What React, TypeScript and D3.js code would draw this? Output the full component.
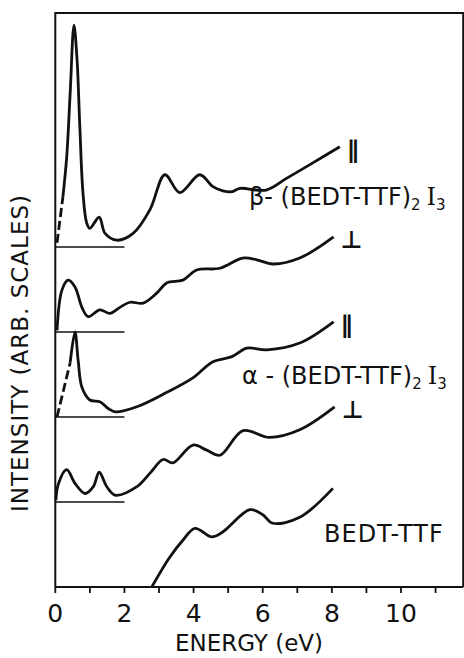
import React from "react";
import * as d3 from "d3";

// energy (eV) / intensity (arb., relative to each trace's own baseline)
const betaPar: [number, number][] = [
  [0.05, 0.05], [0.22, 0.59], [0.33, 1.06], [0.43, 1.81], [0.54, 2.61],
  [0.63, 2.2], [0.71, 1.41], [0.8, 0.64], [0.91, 0.28], [1.0, 0.22],
  [1.27, 0.35], [1.44, 0.16], [1.78, 0.08], [2.25, 0.16], [2.74, 0.44],
  [3.17, 0.85], [3.6, 0.64], [4.18, 0.85], [4.56, 0.71], [4.85, 0.66],
  [5.1, 0.65], [5.34, 0.69], [6.1, 0.67], [6.7, 0.81], [7.45, 0.99], [8.23, 1.18],
];
const betaPerp: [number, number][] = [
  [0.05, 0.02], [0.19, 0.49], [0.37, 0.61], [0.57, 0.53], [0.77, 0.29],
  [0.95, 0.18], [1.29, 0.26], [1.58, 0.22], [1.87, 0.29], [2.16, 0.35],
  [2.54, 0.34], [2.94, 0.46], [3.23, 0.58], [3.69, 0.61], [4.09, 0.73],
  [4.76, 0.75], [5.42, 0.87], [5.83, 0.85], [6.29, 0.8], [7.07, 0.87],
  [8.05, 1.12],
];
const alphaPar: [number, number][] = [
  [0.05, 0.0], [0.43, 0.64], [0.57, 1.0], [0.66, 0.67], [0.77, 0.35],
  [1.0, 0.2], [1.29, 0.18], [1.53, 0.1], [1.73, 0.06], [2.36, 0.12],
  [3.23, 0.29], [3.98, 0.46], [4.56, 0.65], [5.11, 0.71], [5.54, 0.81],
  [6.12, 0.79], [7.07, 0.87], [8.05, 1.12],
];
const alphaPerp: [number, number][] = [
  [0.02, 0.02], [0.08, 0.2], [0.33, 0.38], [0.57, 0.22], [0.86, 0.1],
  [1.1, 0.18], [1.27, 0.35], [1.49, 0.18], [1.73, 0.08], [2.36, 0.18],
  [2.74, 0.34], [3.12, 0.5], [3.4, 0.46], [3.98, 0.67], [4.38, 0.61],
  [4.76, 0.55], [5.43, 0.84], [6.2, 0.76], [7.07, 0.85], [8.08, 1.12],
];
const bedtTtf: [number, number][] = [
  [2.79, 0.0], [3.31, 0.35], [3.69, 0.55], [4.04, 0.69], [4.53, 0.59],
  [4.85, 0.65], [5.63, 0.91], [6.0, 0.85], [6.29, 0.75], [7.07, 0.82],
  [8.03, 1.16],
];

const traceOffsets = [4, 3, 2, 1, 0];
const traceMarks = ["∥", "⊥", "∥", "⊥", ""];
const dashEnds = [0.22, 0, 0.43, 0, 0];
const xTicks = [0, 1, 2, 3, 4, 5, 6, 7, 8, 9, 10, 11];
const xTickLabels = [0, 2, 4, 6, 8, 10];

const traces = [betaPar, betaPerp, alphaPar, alphaPerp, bedtTtf];

export default function App() {
  const W = 464;
  const H = 658;
  const x = d3.scaleLinear().domain([0, 10]).range([55.3, 401]);
  const y = d3.scaleLinear().domain([0, 6.753]).range([587, 13]);
  const xMax = 11.8;

  const solid = d3
    .line<[number, number]>()
    .x((d) => x(d[0]))
    .y((d) => y(d[1]))
    .curve(d3.curveCatmullRom.alpha(0.5));
  const straight = d3
    .line<[number, number]>()
    .x((d) => x(d[0]))
    .y((d) => y(d[1]));

  const font = "'DejaVu Sans', sans-serif";
  const ink = "#111";

  return (
    <svg width={W} height={H} style={{ position: "absolute", left: 0, top: 0 }}>
      <rect width={W} height={H} fill="#fff" />

      {/* frame */}
      <path
        d={`M${x(0)},${y(0)}V${y(6.753)}H${x(xMax)}V${y(0)}`}
        fill="none"
        stroke={ink}
        strokeWidth={2}
      />
      <line x1={x(0)} x2={x(xMax)} y1={y(0)} y2={y(0)} stroke={ink} strokeWidth={2.2} />

      {/* ticks */}
      {xTicks.map((t) => (
        <line key={t} x1={x(t)} x2={x(t)} y1={y(0)} y2={y(0) + 6} stroke={ink} strokeWidth={1.8} />
      ))}
      {xTickLabels.map((t) => (
        <text
          key={t}
          x={x(t)}
          y={622}
          textAnchor="middle"
          fontFamily={font}
          fontSize={25}
          fill={ink}
        >
          {t}
        </text>
      ))}
      <text x={249} y={651} textAnchor="middle" fontFamily={font} fontSize={23} fill={ink}>
        ENERGY (eV)
      </text>
      <text
        transform={`translate(28,${353}) rotate(-90)`}
        textAnchor="middle"
        fontFamily={font}
        fontSize={23}
        letterSpacing={1}
        fill={ink}
      >
        INTENSITY (ARB. SCALES)
      </text>

      {/* traces */}
      {traces.map((data, i) => {
        const off = traceOffsets[i];
        const pts = data.map((d) => [d[0], d[1] + off] as [number, number]);
        const de = dashEnds[i];
        const dashPts = pts.filter((d) => d[0] <= de);
        const solidPts = pts.filter((d) => d[0] >= de);
        const last = pts[pts.length - 1];
        return (
          <g key={i}>
            {off > 0 && (
              <line x1={x(0)} x2={x(2)} y1={y(off)} y2={y(off)} stroke={ink} strokeWidth={1.5} />
            )}
            {dashPts.length > 1 && (
              <path
                d={straight(dashPts) || ""}
                fill="none"
                stroke={ink}
                strokeWidth={2.8}
                strokeDasharray="9 4"
              />
            )}
            <path d={solid(solidPts) || ""} fill="none" stroke={ink} strokeWidth={2.8} strokeLinejoin="round" />
            {traceMarks[i] && (
              <text
                x={x(last[0]) + 7}
                y={y(last[1]) + 11}
                fontFamily={font}
                fontSize={24}
                fontWeight="bold"
                fill={ink}
              >
                {traceMarks[i]}
              </text>
            )}
          </g>
        );
      })}

      {/* sample labels */}
      <text x={249} y={205} fontFamily={font} fontSize={24} fill={ink}>
        β- (BEDT-TTF)
        <tspan fontSize={15} dy={5}>2</tspan>
        <tspan dy={-5} dx={6} fontFamily="'DejaVu Serif', serif">I</tspan>
        <tspan fontSize={15} dy={5}>3</tspan>
      </text>
      <text x={242} y={384} fontFamily={font} fontSize={24} fill={ink}>
        α - (BEDT-TTF)
        <tspan fontSize={15} dy={5}>2</tspan>
        <tspan dy={-5} dx={6} fontFamily="'DejaVu Serif', serif">I</tspan>
        <tspan fontSize={15} dy={5}>3</tspan>
      </text>
      <text x={324} y={542} fontFamily={font} fontSize={24} letterSpacing={1} fill={ink}>
        BEDT-TTF
      </text>
    </svg>
  );
}
